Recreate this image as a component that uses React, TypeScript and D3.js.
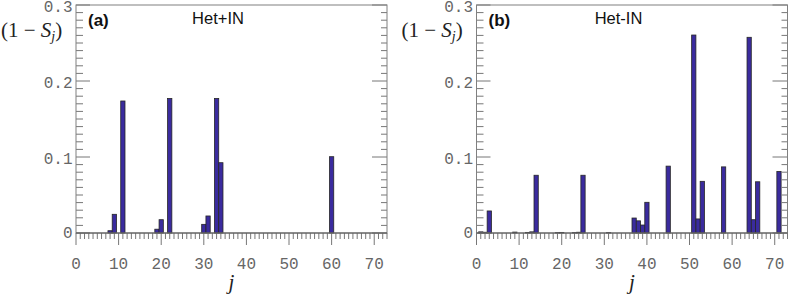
import * as d3 from "d3";

const panels = ["(a)", "(b)"];
const titles = ["Het+IN", "Het-IN"];

const jA = [8, 9, 11, 19, 20, 22, 30, 31, 33, 34, 60];
const vA = [0.003, 0.0246, 0.1737, 0.005, 0.0175, 0.177, 0.0114, 0.0224, 0.177, 0.0925, 0.1004];

const jB = [1, 2, 3, 9, 12, 13, 14, 19, 20, 23, 24, 25, 31, 37, 38, 39, 40, 45, 51, 52, 53, 58, 64, 65, 66, 71];
const vB = [
  0.0015, 0.001, 0.029, 0.0012, 0.0008, 0.0015, 0.076, 0.0005, 0.0008, 0.0005, 0.001, 0.076, 0.0005,
  0.0197, 0.016, 0.0105, 0.0404, 0.088, 0.2605, 0.0185, 0.068, 0.087, 0.2575, 0.0175, 0.0674, 0.081,
];

const xTicks = [0, 10, 20, 30, 40, 50, 60, 70];
const yTicks = [0, 0.1, 0.2, 0.3];
const yTickLabels = ["0", "0.1", "0.2", "0.3"];

const W = 789;
const H = 295;
const top = 5;
const bottom = 233;
const plotW = 311;
const lefts = [76, 476.5];

const frame = "#808080";
const tickCol = "#777";
const labelCol = "#666";

function Panel({ idx, js, vals }: { idx: number; js: number[]; vals: number[] }) {
  const left = lefts[idx];
  const right = left + plotW;
  const x = d3.scaleLinear().domain([0, 73]).range([left, right]);
  const y = d3.scaleLinear().domain([0, 0.3]).range([bottom, top]);
  const minorX = d3.range(0, 74, 1);
  const minorY = d3.range(0, 31, 1).map((d) => d / 100);
  const bw = x(1) - x(0);

  return (
    <g>
      {/* bars */}
      {js.map((j, i) => (
        <rect
          key={"b" + i}
          x={x(j) - bw / 2}
          y={y(vals[i])}
          width={bw}
          height={bottom - y(vals[i])}
          fill="#3a2b9e"
          stroke="#262626"
          strokeWidth={0.8}
        />
      ))}

      {/* y ticks, left and right, pointing in */}
      {minorY.map((v, i) => {
        const major = i % 10 === 0;
        return (
          <g key={"yt" + i}>
            <line x1={left} x2={left + (major ? 14 : 7)} y1={y(v)} y2={y(v)} stroke={tickCol} strokeWidth={1} />
            <line x1={right} x2={right - (major ? 15 : 6)} y1={y(v)} y2={y(v)} stroke={tickCol} strokeWidth={1} />
          </g>
        );
      })}

      {/* x ticks, pointing out */}
      {minorX.map((v) => {
        const major = v % 10 === 0;
        return (
          <line
            key={"xt" + v}
            x1={x(v)}
            x2={x(v)}
            y1={bottom}
            y2={bottom + (major ? 12 : 6)}
            stroke={tickCol}
            strokeWidth={1}
          />
        );
      })}

      {/* frame */}
      <rect x={left} y={top} width={plotW} height={bottom - top} fill="none" stroke={frame} strokeWidth={1} />
      <line x1={left} x2={right} y1={bottom} y2={bottom} stroke="#555" strokeWidth={1} />

      {yTicks.map((v, i) => (
        <text
          key={"yl" + i}
          x={left - 3.5}
          y={y(v) + (i === 0 ? 5 : 7)}
          textAnchor="end"
          fontFamily="'Liberation Mono', monospace"
          fontSize={16}
          fill={labelCol}
        >
          {yTickLabels[i]}
        </text>
      ))}

      {xTicks.map((v) => (
        <text
          key={"xl" + v}
          x={x(v)}
          y={268.5}
          textAnchor="middle"
          fontFamily="'Liberation Mono', monospace"
          fontSize={16}
          fill={labelCol}
        >
          {v}
        </text>
      ))}

      <text
        x={(left + right) / 2}
        y={289}
        textAnchor="middle"
        fontFamily="'Liberation Serif', serif"
        fontStyle="italic"
        fontSize={21}
        fill="#222"
      >
        j
      </text>
      <text x={left - 75} y={37} fontFamily="'Liberation Serif', serif" fontSize={21} fill="#222">
        (1 − <tspan fontStyle="italic">S</tspan>
        <tspan fontStyle="italic" fontSize={14} dy={4}>
          j
        </tspan>
        <tspan dy={-4}>)</tspan>
      </text>

      <text x={left + 12} y={26} fontFamily="'Liberation Sans', Arial, sans-serif" fontWeight="bold" fontSize={17} fill="#111">
        {panels[idx]}
      </text>
      <text
        x={left + 142}
        y={24}
        textAnchor="middle"
        fontFamily="'Liberation Sans', Arial, sans-serif"
        fontSize={16.5}
        fill="#111"
      >
        {titles[idx]}
      </text>
    </g>
  );
}

export default function App() {
  return (
    <svg
      width={W}
      height={H}
      viewBox={`0 0 ${W} ${H}`}
      style={{ position: "absolute", left: 0, top: 0, background: "#fff" }}
    >
      <Panel idx={0} js={jA} vals={vA} />
      <Panel idx={1} js={jB} vals={vB} />
    </svg>
  );
}
